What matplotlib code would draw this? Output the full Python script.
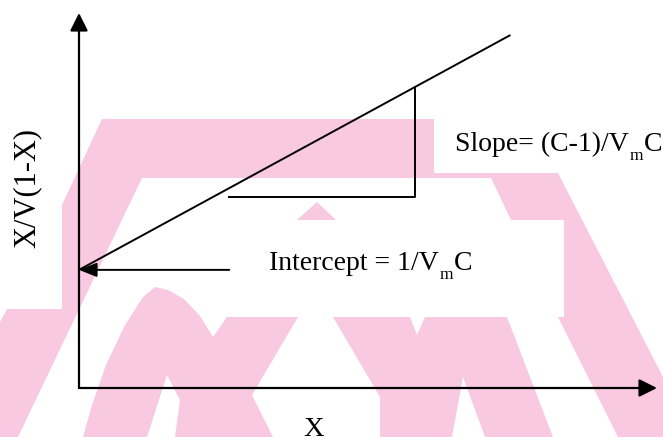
import matplotlib.pyplot as plt
from matplotlib.patches import Polygon

# BET plot schematic: X/V(1-X) against X
line_x = [0.0, 0.745]
line_y = [0.315, 0.94]
intercept = 0.315
intercept_arrow_x = 0.26
tri_x = [0.26, 0.582, 0.582]
tri_y = [0.509, 0.509, 0.80]

# labels split around the subscript: (before, subscript, after)
slope_label = ('Slope= (C-1)/V', 'm', 'C')
intercept_label = ('Intercept = 1/V', 'm', 'C')
xlabel = 'X'
ylabel = 'X/V(1-X)'

plt.rcParams['font.family'] = 'Liberation Serif'

W, H = 663, 437
fig = plt.figure(figsize=(W / 100, H / 100), dpi=100)
renderer = fig.canvas.get_renderer()

# background layer in pixel units (y down) for the watermark and labels
bg = fig.add_axes([0, 0, 1, 1])
bg.set_xlim(0, W)
bg.set_ylim(H, 0)
bg.axis('off')

pink = '#f9c8e1'
watermark = [
    [(102, 119), (434, 119), (434, 173), (558, 173), (663, 377), (663, 437),
     (618, 437), (558, 317), (564, 317), (564, 220), (511, 220), (491, 178),
     (142, 178), (18, 437), (0, 437), (0, 322), (7, 309), (62, 309), (62, 205)],
    [(83, 437), (92, 405), (106, 365), (125, 325), (143, 297), (155, 287),
     (168, 290), (184, 299), (200, 316), (213, 337), (227, 317), (298, 317),
     (252, 395), (273, 437), (175, 437), (180, 400), (167, 375), (147, 437)],
    [(333, 317), (410, 317), (417, 335), (425, 317), (507, 317), (553, 437),
     (485, 437), (463, 377), (452, 437), (380, 437), (380, 397)],
    [(297, 220), (317, 202), (336, 220)],
]
for pts in watermark:
    bg.add_patch(Polygon(pts, closed=True, facecolor=pink, edgecolor='none'))


def sub_text(x, y, parts, size=20, sub_size=12.5, drop=9):
    # lay out "before", lowered subscript, "after" side by side
    pre, sub, post = parts
    t = bg.text(x, y, pre, fontsize=size, ha='left', va='baseline')
    x1 = t.get_window_extent(renderer).x1
    s = bg.text(x1 + 1, y + drop, sub, fontsize=sub_size, ha='left', va='baseline')
    x2 = s.get_window_extent(renderer).x1
    bg.text(x2 + 1, y, post, fontsize=size, ha='left', va='baseline')


sub_text(455, 151, slope_label)
sub_text(269, 270, intercept_label)
bg.text(27, 188, ylabel, fontsize=22, rotation=90, ha='center', va='center')
bg.text(314, 436, xlabel, fontsize=20.5, ha='center', va='baseline')

# plot axes: origin at the corner of the two arrows
ax = fig.add_axes([79 / W, (H - 388) / H, 578 / W, 375 / H])
ax.set_zorder(2)
ax.patch.set_alpha(0)
ax.set_xlim(0, 1)
ax.set_ylim(0, 1)
ax.axis('off')

head = '-|>,head_length=0.4,head_width=0.2'
for tip in [(1, 0), (0, 1)]:
    ax.annotate('', xy=tip, xytext=(0, 0), annotation_clip=False,
                arrowprops=dict(arrowstyle=head, mutation_scale=27, lw=1.6,
                                color='black', shrinkA=0, shrinkB=0))

ax.plot(line_x, line_y, color='black', lw=1.4, clip_on=False)
ax.plot(tri_x, tri_y, color='black', lw=1.4, clip_on=False)
ax.annotate('', xy=(line_x[0], intercept), xytext=(intercept_arrow_x, intercept),
            annotation_clip=False,
            arrowprops=dict(arrowstyle='-|>,head_length=0.4,head_width=0.16',
                            mutation_scale=27, lw=1.4, color='black',
                            shrinkA=0, shrinkB=0))

fig.savefig('out.png', dpi=100)
